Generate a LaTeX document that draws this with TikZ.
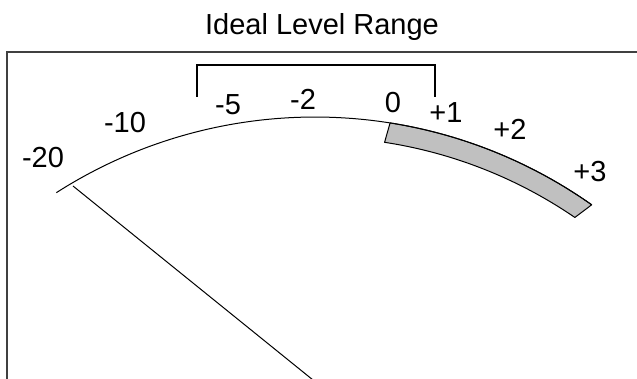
\documentclass[tikz,border=0pt]{standalone}
\usepackage{fontspec}
\setmainfont{Liberation Sans}
\usetikzlibrary{calc}
\definecolor{bandgray}{HTML}{C0C0C0}
\definecolor{framegray}{HTML}{404040}
\begin{document}
\begin{tikzpicture}[x=1pt,y=1pt,
  lbl/.style={anchor=base,inner sep=0pt,font=\fontsize{29}{32}\selectfont},
  frameline/.style={draw=framegray,line width=1.6pt},
  bracketline/.style={draw=black,line width=2.6pt},
  scaleline/.style={draw=black,line width=1pt},
  bandfill/.style={fill=bandgray,draw=black,line width=1pt,line join=round},
  needleline/.style={draw=black,line width=1pt}]
\path[use as bounding box] (0,0) rectangle (637,-379);
% frame
\coordinate (frTR) at (637,-52);
\coordinate (frTL) at (7,-52);
\coordinate (frBL) at (7,-379);
\draw[frameline] (frTR) -- (frTL) -- (frBL);
% title
\node[lbl] (title) at (322,-35) {Ideal Level Range};
% bracket
\coordinate (brA) at (197,-97);
\coordinate (brB) at (197,-65);
\coordinate (brC) at (435,-65);
\coordinate (brD) at (435,-97);
\draw[bracketline] (brA) -- (brB) -- (brC) -- (brD);
% scale arc
\coordinate (C) at (315,-597);
\coordinate (arcL) at ($(C)+(122.6:480pt)$);
\coordinate (arcZ) at ($(C)+(81:480pt)$);
\coordinate (arcR) at ($(C)+(54.8:480pt)$);
\coordinate (inR) at ($(C)+(55.6:460pt)$);
\coordinate (inZ) at ($(C)+(81.3:460pt)$);
\draw[bandfill] (arcZ) arc[start angle=81,end angle=54.8,radius=480pt] -- (inR)
  arc[start angle=55.6,end angle=81.3,radius=460pt] -- cycle;
\draw[scaleline] (arcL) arc[start angle=122.6,end angle=54.8,radius=480pt];
% needle
\coordinate (needleA) at (73,-186);
\coordinate (needleB) at (313,-380);
\draw[needleline] (needleA) -- (needleB);
% labels
\node[lbl] (m20) at (43,-168) {-20};
\node[lbl] (m10) at (125,-133) {-10};
\node[lbl] (m5) at (228,-115) {-5};
\node[lbl] (m2) at (303,-110) {-2};
\node[lbl] (z0) at (393,-113) {0};
\node[lbl] (p1) at (446,-123) {+1};
\node[lbl] (p2) at (510,-140) {+2};
\node[lbl] (p3) at (590,-182) {+3};
\end{tikzpicture}
\end{document}
